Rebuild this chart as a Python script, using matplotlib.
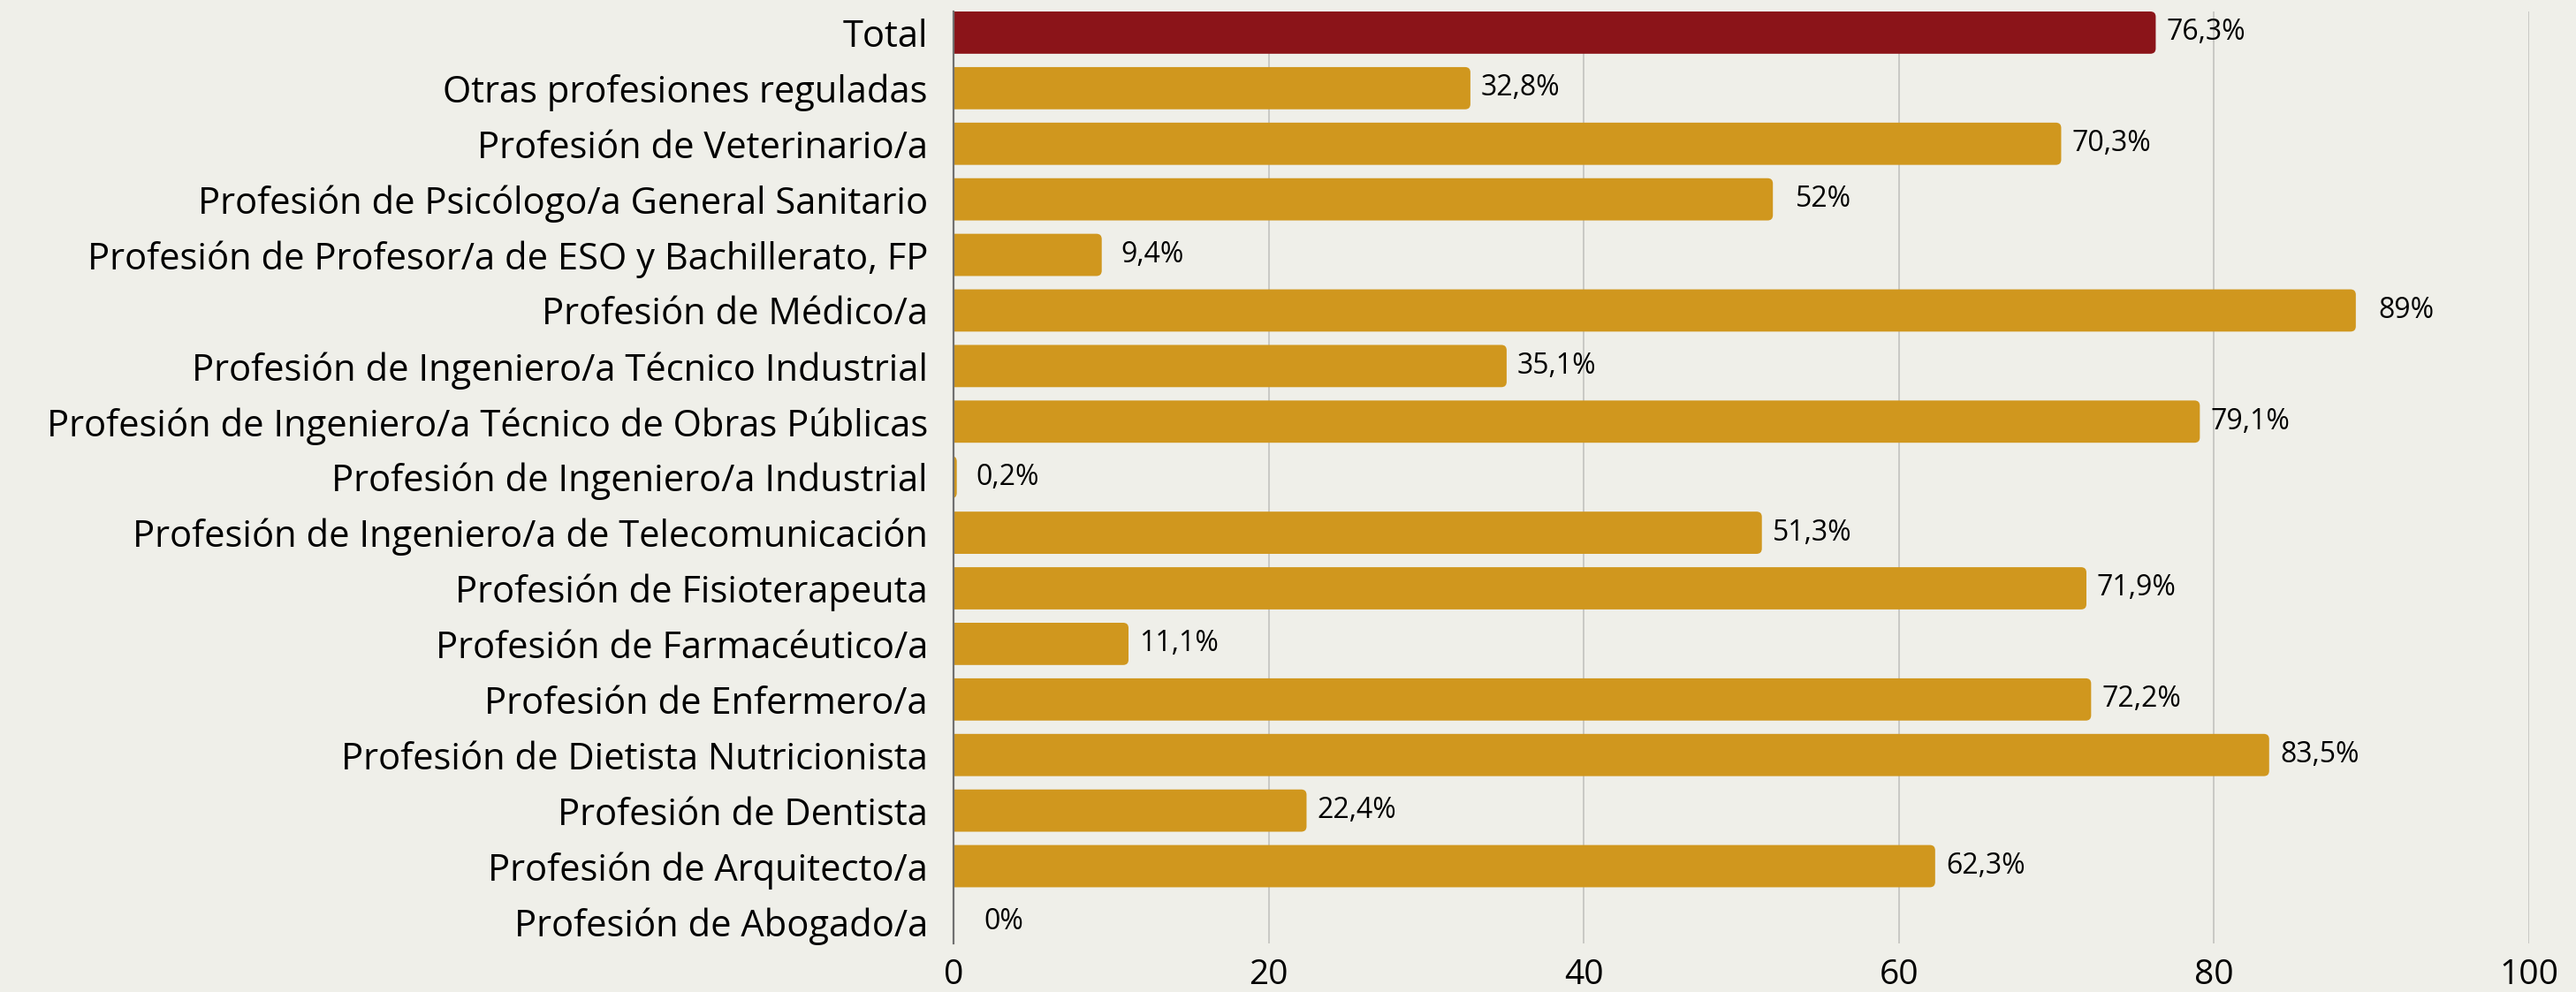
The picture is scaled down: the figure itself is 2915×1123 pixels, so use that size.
import matplotlib
matplotlib.use("Agg")
import matplotlib.pyplot as plt
import matplotlib.patches as patches

# Datos (de arriba a abajo)
categorias = [
    "Total",
    "Otras profesiones reguladas",
    "Profesión de Veterinario/a",
    "Profesión de Psicólogo/a General Sanitario",
    "Profesión de Profesor/a de ESO y Bachillerato, FP",
    "Profesión de Médico/a",
    "Profesión de Ingeniero/a Técnico Industrial",
    "Profesión de Ingeniero/a Técnico de Obras Públicas",
    "Profesión de Ingeniero/a Industrial",
    "Profesión de Ingeniero/a de Telecomunicación",
    "Profesión de Fisioterapeuta",
    "Profesión de Farmacéutico/a",
    "Profesión de Enfermero/a",
    "Profesión de Dietista Nutricionista",
    "Profesión de Dentista",
    "Profesión de Arquitecto/a",
    "Profesión de Abogado/a",
]
valores = [76.3, 32.8, 70.3, 52, 9.4, 89, 35.1, 79.1, 0.2, 51.3, 71.9, 11.1, 72.2, 83.5, 22.4, 62.3, 0]
etiquetas = ["76,3%", "32,8%", "70,3%", "52%", "9,4%", "89%", "35,1%", "79,1%", "0,2%",
             "51,3%", "71,9%", "11,1%", "72,2%", "83,5%", "22,4%", "62,3%", "0%"]
ticks_x = [0, 20, 40, 60, 80, 100]

fondo = "#efefe9"
oro = "#d0971e"
rojo = "#8b1419"

plt.rcParams["font.family"] = ["Open Sans", "DejaVu Sans"]

fig = plt.figure(figsize=(29.15, 11.23), dpi=100, facecolor=fondo)
ax = fig.add_axes([0.3702, 0.0490, 0.6116, 0.9394], facecolor=fondo)

pos = list(range(len(categorias)))
colores = [rojo] + [oro] * (len(categorias) - 1)
barras = ax.barh(pos, valores, height=0.76, color=colores, zorder=2)

# Extremo derecho redondeado
for b, c in zip(barras, colores):
    b.set_visible(False)
    if b.get_width() <= 0:
        continue
    x0 = -0.6
    w = b.get_width() - x0
    p = patches.FancyBboxPatch((x0, b.get_y()), w, b.get_height(),
                               boxstyle="round,pad=0,rounding_size=0.34",
                               mutation_aspect=0.28, facecolor=c,
                               edgecolor="none", zorder=2, clip_on=True)
    ax.add_patch(p)

for k, (v, t) in enumerate(zip(valores, etiquetas)):
    ax.annotate(t, (v, k), xytext=(41, 0), textcoords="offset points",
                ha="center", va="center", fontsize=23, color="black")

ax.set_xlim(0, 100)
ax.set_ylim(16.39, -0.38)
ax.set_yticks(pos)
ax.set_yticklabels(categorias, fontsize=30)
ax.set_xticks(ticks_x)
ax.set_xticklabels([str(t) for t in ticks_x], fontsize=28)
ax.tick_params(axis="y", length=0, pad=21)
ax.tick_params(axis="x", length=0, pad=12)

ax.grid(axis="x", color="#c2c2be", linewidth=1.2, zorder=0)
ax.set_axisbelow(True)
for s in ["top", "right", "bottom"]:
    ax.spines[s].set_visible(False)
ax.spines["left"].set_color("#707070")
ax.spines["left"].set_linewidth(1.6)
ax.spines["left"].set_zorder(3)

fig.savefig("out.png", dpi=100, facecolor=fondo)
